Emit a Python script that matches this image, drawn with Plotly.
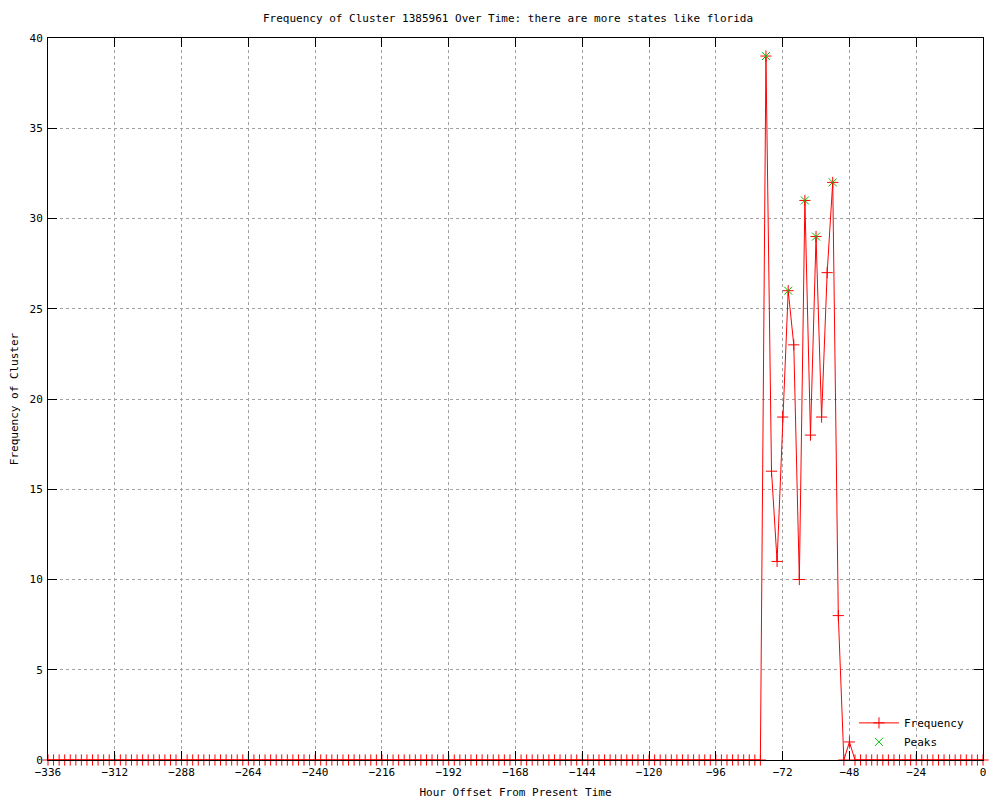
import plotly.graph_objects as go

hours = list(range(-336, 1, 2))
nonzero = {-78: 39, -76: 16, -74: 11, -72: 19, -70: 26, -68: 23, -66: 10,
           -64: 31, -62: 18, -60: 29, -58: 19, -56: 27, -54: 32, -52: 8,
           -50: 0, -48: 1}
freq = [nonzero.get(h, 0) for h in hours]

peak_hours = [-78, -70, -64, -60, -54]
peak_values = [39, 26, 31, 29, 32]

x_ticks = list(range(-336, 1, 24))
y_ticks = list(range(0, 41, 5))

font = dict(family="DejaVu Sans Mono, monospace", size=11, color="black")

fig = go.Figure()
fig.add_trace(go.Scatter(
    x=hours, y=freq, mode="lines+markers", name="Frequency",
    line=dict(color="red", width=1),
    marker=dict(symbol="cross-thin-open", size=8, color="red",
                line=dict(color="red", width=1)),
    cliponaxis=False))
fig.add_trace(go.Scatter(
    x=peak_hours, y=peak_values, mode="markers", name="Peaks",
    marker=dict(symbol="x-thin-open", size=8, color="#00c000",
                line=dict(color="#00c000", width=1)),
    cliponaxis=False))

axis_common = dict(showline=True, linecolor="black", linewidth=1, mirror="ticks",
                   ticks="inside", ticklen=9, tickcolor="black",
                   showgrid=True, gridcolor="#a0a0a0", griddash="dot", gridwidth=1,
                   zeroline=False, tickfont=font, automargin=False)

fig.update_layout(
    width=1000, height=800,
    paper_bgcolor="white", plot_bgcolor="white",
    margin=dict(l=40, r=25, t=30, b=48),
    font=font,
    title=dict(text="Frequency of Cluster 1385961 Over Time: there are more states like florida",
               x=0.5, xanchor="center", y=0.9875, yanchor="middle", font=font),
    xaxis=dict(range=[-336, 0], tickvals=x_ticks, ticklabelstandoff=2,
               title=dict(text="Hour Offset From Present Time", font=font, standoff=10),
               **axis_common),
    yaxis=dict(range=[0, 40], tickvals=y_ticks, ticklabelstandoff=2,
               title=dict(text="Frequency of Cluster", font=font, standoff=12),
               **axis_common),
    legend=dict(x=0.985, y=0.005, xanchor="right", yanchor="bottom",
                bgcolor="rgba(0,0,0,0)", font=font, itemwidth=40,
                tracegroupgap=0, traceorder="normal"),
    showlegend=True,
)

fig.write_html("out.html")
